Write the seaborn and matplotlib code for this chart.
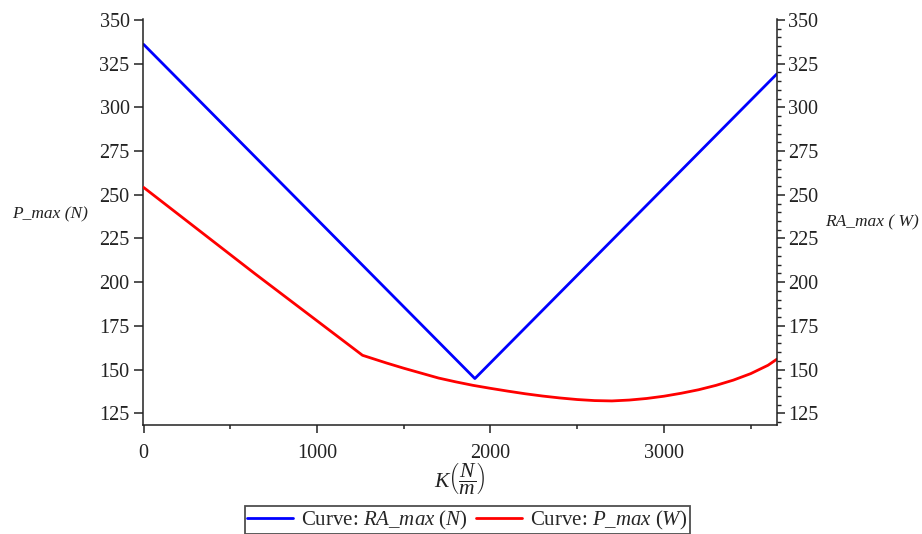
import matplotlib
matplotlib.use("Agg")
import matplotlib.pyplot as plt
from matplotlib.ticker import MultipleLocator
import seaborn as sns
import pandas as pd

# values
k_ra = [0, 1910, 3650]
ra_max = [336.0, 144.9, 319.0]

k_p = [0, 640, 1262, 1400, 1500, 1600, 1700, 1800, 1900, 2000, 2100, 2200, 2300,
       2400, 2500, 2600, 2700, 2800, 2900, 3000, 3100, 3200, 3300, 3400, 3500,
       3600, 3650]
p_max = [254.2, 205.0, 158.2, 153.8, 150.8, 148.0, 145.2, 143.0, 141.0, 139.3,
         137.7, 136.2, 134.9, 133.8, 132.9, 132.3, 132.1, 132.6, 133.5, 134.8,
         136.5, 138.5, 141.0, 144.0, 147.7, 152.5, 155.9]

y_ticks = [125, 150, 175, 200, 225, 250, 275, 300, 325, 350]
x_ticks = [0, 1000, 2000, 3000]

sns.set_theme(style="ticks")
plt.rcParams["font.family"] = ["Liberation Serif", "DejaVu Serif"]
plt.rcParams["mathtext.fontset"] = "custom"
plt.rcParams["mathtext.rm"] = "Liberation Serif"
plt.rcParams["mathtext.it"] = "Liberation Serif:italic"

df_ra = pd.DataFrame({"K": k_ra, "v": ra_max})
df_p = pd.DataFrame({"K": k_p, "v": p_max})

fig = plt.figure(figsize=(9.22, 5.34), dpi=100)
ax = fig.add_axes([0.1548, 0.204, 0.6876, 0.7604])
ax2 = ax.twinx()

sns.lineplot(data=df_ra, x="K", y="v", ax=ax, color="#0000ff", lw=2.0,
             label=r"Curve: $\mathit{RA\_max\ (N)}$", legend=False)
sns.lineplot(data=df_p, x="K", y="v", ax=ax2, color="#ff0000", lw=2.0,
             label=r"Curve: $\mathit{P\_max\ (W)}$", legend=False)

for a in (ax, ax2):
    a.set_ylim(118.3, 350.5)
    a.set_yticks(y_ticks)
    a.set_xlim(-5, 3650)
    for s in a.spines.values():
        s.set_color("#222222")
        s.set_linewidth(1.1)
    a.spines["top"].set_visible(False)
    a.set_xlabel("")
    a.set_ylabel("")

ax.spines["right"].set_visible(False)
ax2.spines["left"].set_visible(False)
ax2.spines["bottom"].set_visible(False)

ax.set_xticks(x_ticks)
ax.xaxis.set_minor_locator(MultipleLocator(500))
ax.tick_params(axis="x", which="major", length=5.5, width=1.1, pad=8,
               labelsize=14.5, colors="#222222")
ax.tick_params(axis="x", which="minor", length=3, width=1.1, colors="#222222")
ax.tick_params(axis="y", which="major", length=6.5, width=1.1, pad=3,
               labelsize=14.5, colors="#222222")
ax2.yaxis.set_minor_locator(MultipleLocator(5))
ax2.tick_params(axis="y", which="major", length=5.5, width=1.1, pad=3,
                labelsize=14.5, colors="#222222")
ax2.tick_params(axis="y", which="minor", length=3, width=1.0, colors="#222222")

ax.set_ylabel("P_max (N)", rotation=0, fontstyle="italic", fontsize=12.5,
              color="#222222", ha="center", va="center")
ax.yaxis.set_label_coords(-0.147, 0.52)
ax2.set_ylabel("RA_max ( W)", rotation=0, fontstyle="italic", fontsize=12.5,
               color="#222222", ha="center", va="center")
ax2.yaxis.set_label_coords(1.15, 0.498)

ax.set_xlabel(r"$K\left(\dfrac{N}{m}\right)$", fontsize=15.5, color="#222222",
              labelpad=-2)

h1, l1 = ax.get_legend_handles_labels()
h2, l2 = ax2.get_legend_handles_labels()
leg = fig.legend(h1 + h2, l1 + l2, loc="center", bbox_to_anchor=(0.507, 0.026),
                 ncol=2, fontsize=15, frameon=True, fancybox=False,
                 handlelength=2.2, handletextpad=0.4, columnspacing=0.4,
                 borderpad=0.12, borderaxespad=0)
leg.get_frame().set_edgecolor("#222222")
leg.get_frame().set_linewidth(1.3)

fig.savefig("out.png", dpi=100)
